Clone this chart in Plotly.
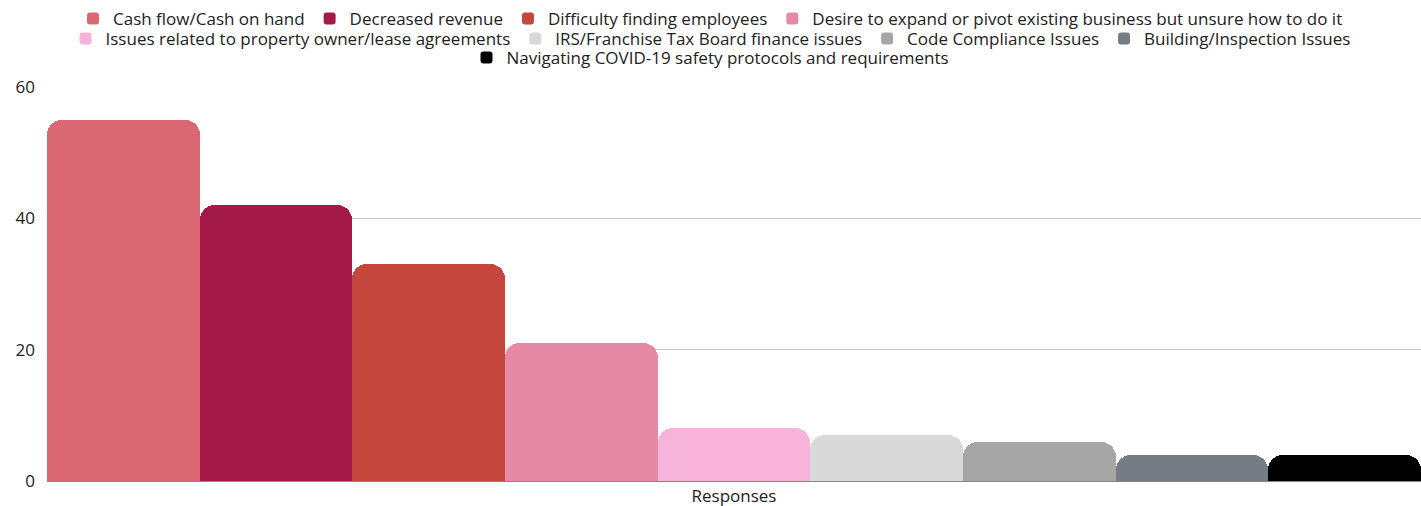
import plotly.graph_objects as go

categories = ["Responses"]
series_names = [
    "Cash flow/Cash on hand",
    "Decreased revenue",
    "Difficulty finding employees",
    "Desire to expand or pivot existing business but unsure how to do it",
    "Issues related to property owner/lease agreements",
    "IRS/Franchise Tax Board finance issues",
    "Code Compliance Issues",
    "Building/Inspection Issues",
    "Navigating COVID-19 safety protocols and requirements",
]
series_values = [55, 42, 33, 21, 8, 7, 6, 4, 4]
colors = ["#D96872", "#A31A48", "#C4463C", "#E589A5", "#F8B3DB",
          "#D9D9D9", "#A6A6A6", "#767C83", "#000000"]
legend_rows = ["legend", "legend", "legend", "legend",
               "legend2", "legend2", "legend2", "legend2", "legend3"]
y_ticks = [0, 20, 40, 60]

fig = go.Figure()
for name, val, col, lg in zip(series_names, series_values, colors, legend_rows):
    fig.add_trace(go.Bar(x=categories, y=[val], name=name, marker_color=col,
                         marker_line_width=0, legend=lg))

H = 506
def leg(yc):
    return dict(orientation="h", x=0.5, xanchor="center", xref="container",
                y=1 - yc / H, yanchor="middle", yref="container",
                font=dict(size=17, color="#222"), itemwidth=30,
                bgcolor="rgba(0,0,0,0)", tracegroupgap=0)

fig.update_layout(
    width=1421, height=H,
    barmode="group", bargap=0, bargroupgap=0, barcornerradius=15,
    paper_bgcolor="white", plot_bgcolor="white",
    font=dict(family="Open Sans, sans-serif", size=17, color="#222"),
    margin=dict(l=47, r=0, t=87, b=25),
    legend=leg(19), legend2=leg(39), legend3=leg(58),
    showlegend=True,
)
fig.update_yaxes(range=[0, 60], tickvals=y_ticks, showgrid=True, gridcolor="#c4c4c4",
                 zeroline=True, zerolinecolor="#888", zerolinewidth=1, automargin=False,
                 ticks="", ticklabelstandoff=11, tickfont=dict(size=17))
fig.update_xaxes(showgrid=False, ticks="", ticklabelstandoff=3, automargin=False,
                 tickfont=dict(size=17))

fig.write_html("out.html", config={"displayModeBar": False},
               post_script="document.body.style.margin='0px';")
